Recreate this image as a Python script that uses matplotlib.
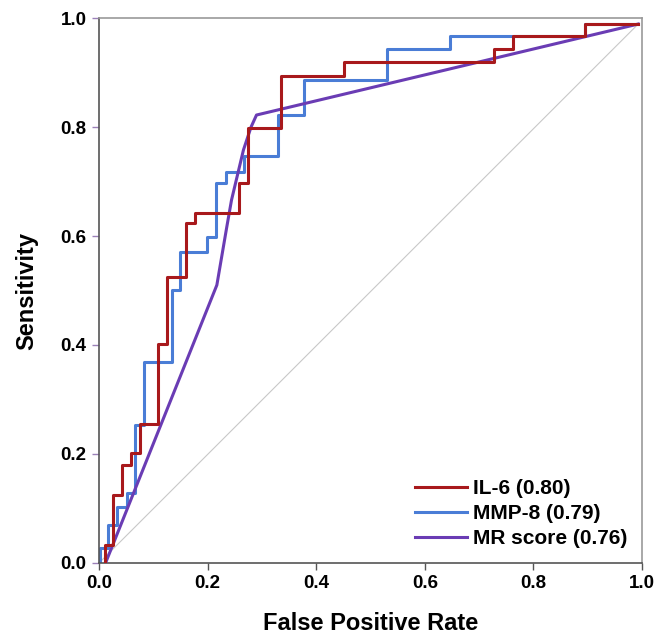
import matplotlib
matplotlib.use('Agg')
import matplotlib.pyplot as plt

plt.rcParams['font.family'] = ['Liberation Sans', 'DejaVu Sans']
plt.rcParams['font.weight'] = 'bold'

# ROC curves (esquinas de cada curva)
il6_fpr = [0.011, 0.011, 0.026, 0.026, 0.043, 0.043, 0.058, 0.058, 0.0755, 0.0755,
           0.109, 0.109, 0.126, 0.126, 0.160, 0.160, 0.176, 0.176, 0.258, 0.258,
           0.274, 0.274, 0.335, 0.335, 0.452, 0.452, 0.728, 0.728, 0.763, 0.763,
           0.895, 0.895, 0.993]
il6_tpr = [0.0, 0.033, 0.033, 0.125, 0.125, 0.179, 0.179, 0.202, 0.202, 0.255,
           0.255, 0.401, 0.401, 0.525, 0.525, 0.623, 0.623, 0.643, 0.643, 0.698,
           0.698, 0.799, 0.799, 0.894, 0.894, 0.919, 0.919, 0.943, 0.943, 0.967,
           0.967, 0.989, 0.989]

mmp8_fpr = [0.002, 0.002, 0.017, 0.017, 0.033, 0.033, 0.051, 0.051, 0.066, 0.066,
            0.083, 0.083, 0.134, 0.134, 0.149, 0.149, 0.198, 0.198, 0.215, 0.215,
            0.234, 0.234, 0.267, 0.267, 0.329, 0.329, 0.378, 0.378, 0.530, 0.530,
            0.646, 0.646, 0.895, 0.895, 0.993]
mmp8_tpr = [0.0, 0.027, 0.027, 0.070, 0.070, 0.103, 0.103, 0.128, 0.128, 0.253,
            0.253, 0.369, 0.369, 0.501, 0.501, 0.571, 0.571, 0.599, 0.599, 0.698,
            0.698, 0.718, 0.718, 0.746, 0.746, 0.822, 0.822, 0.887, 0.887, 0.943,
            0.943, 0.967, 0.967, 0.989, 0.989]

mr_fpr = [0.012, 0.217, 0.235, 0.244, 0.266, 0.280, 0.290, 0.993]
mr_tpr = [0.0, 0.510, 0.615, 0.666, 0.758, 0.800, 0.822, 0.989]

ref_x = [0.0, 0.993]
ref_y = [0.0, 0.989]

etiquetas = ['IL-6 (0.80)', 'MMP-8 (0.79)', 'MR score (0.76)']
ticks = [0.0, 0.2, 0.4, 0.6, 0.8, 1.0]

fig = plt.figure(figsize=(6.58, 6.37), dpi=100)
ax = fig.add_axes([0.1505, 0.1162, 0.8252, 0.8555])

ax.plot(ref_x, ref_y, color='#c8c8c8', lw=0.8, zorder=1)
l_mmp, = ax.plot(mmp8_fpr, mmp8_tpr, color='#4a7dd6', lw=2.2, zorder=2)
l_mr, = ax.plot(mr_fpr, mr_tpr, color='#6a3cb4', lw=2.2, zorder=3)
l_il6, = ax.plot(il6_fpr, il6_tpr, color='#a8191c', lw=2.2, zorder=4)

ax.set_xlim(0, 1)
ax.set_ylim(0, 1)
ax.set_xticks(ticks)
ax.set_yticks(ticks)
ax.set_xticklabels(['%.1f' % t for t in ticks], fontsize=13.5, fontweight='bold')
ax.set_yticklabels(['%.1f' % t for t in ticks], fontsize=13.5, fontweight='bold')
ax.tick_params(axis='x', length=5, width=1, color='#555555', pad=4)
ax.tick_params(axis='y', length=5, width=1, color='#9b80b8', pad=4)

for s in ['left', 'bottom']:
    ax.spines[s].set_color('#555555')
    ax.spines[s].set_linewidth(1.2)
for s in ['top', 'right']:
    ax.spines[s].set_color('#999999')
    ax.spines[s].set_linewidth(1.2)

ax.set_xlabel('False Positive Rate', fontsize=17, fontweight='bold', labelpad=14)
ax.set_ylabel('Sensitivity', fontsize=17, fontweight='bold', labelpad=16)

ax.legend([l_il6, l_mmp, l_mr], etiquetas, loc='lower right', frameon=False,
          handlelength=2.5, handletextpad=0.3, labelspacing=0.3,
          borderaxespad=0.3, prop={'weight': 'bold', 'size': 15})

plt.savefig('out.png', dpi=100)
